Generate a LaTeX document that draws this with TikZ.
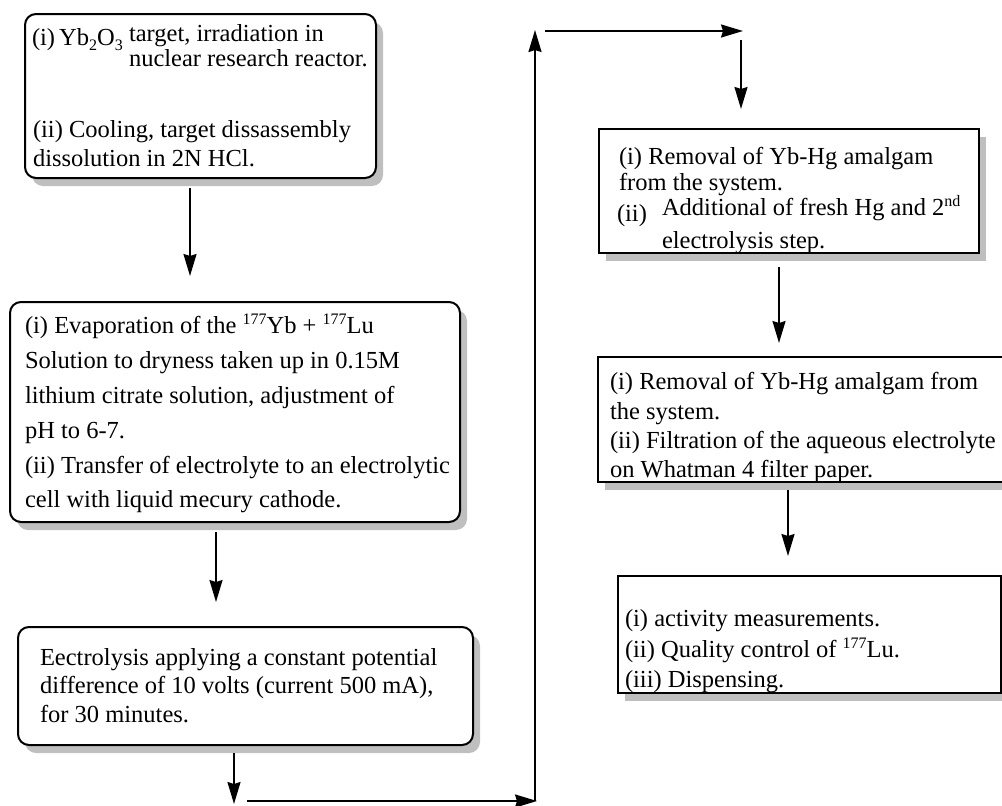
\documentclass[tikz,border=0pt]{standalone}
\usepackage{fontspec}
\setmainfont{Liberation Serif}
\usetikzlibrary{arrows.meta,shadows}
\newcommand{\hi}[1]{\raisebox{9pt}{\fontsize{16}{16}\selectfont #1}}
\newcommand{\lo}[1]{\raisebox{-5pt}{\fontsize{16}{16}\selectfont #1}}
\begin{document}
\begin{tikzpicture}[x=1pt,y=-1pt,
  box/.style={draw=black, line width=2pt, fill=white, anchor=north west, inner sep=0pt, outer sep=0pt,
    drop shadow={shadow xshift=7pt, shadow yshift=-8pt, fill=gray!50, opacity=1}},
  rbox/.style={box, rounded corners=11pt},
  txt/.style={anchor=base west, inner sep=0pt, outer sep=0pt, font=\fontsize{24.5}{29}\selectfont},
  arr/.style={line width=2pt, -{Stealth[length=22pt,width=13pt,inset=2pt]}},
  ln/.style={line width=2pt}
]
\useasboundingbox (0,0) rectangle (1002,806);
\clip (0,0) rectangle (1002,806);

% boxes
\node[rbox, minimum width=351pt, minimum height=164pt] (B1) at (25,14) {};
\node[rbox, minimum width=450pt, minimum height=220pt] (B2) at (10,302) {};
\node[rbox, minimum width=455pt, minimum height=118pt] (B3) at (18,627) {};
\node[box, minimum width=380pt, minimum height=124pt] (B4) at (599,129) {};
\node[box, minimum width=425pt, minimum height=125pt] (B5) at (598,357) {};
\node[box, minimum width=383pt, minimum height=117pt] (B6) at (618,576) {};

% box 1 text
\node[txt] (t1a) at (32,45) {(i)\,Yb\lo{2}O\lo{3}};
\node[txt] (t1b) at (129,41) {target, irradiation in};
\node[txt] (t1c) at (129,66) {nuclear research reactor.};
\node[txt] (t1d) at (33,137) {(ii) Cooling, target dissassembly};
\node[txt] (t1e) at (33,166) {dissolution in 2N HCl.};

% box 2 text
\node[txt] (t2a) at (25,333) {(i) Evaporation of the \hi{177}Yb + \hi{177}Lu};
\node[txt] (t2b) at (25,368) {Solution to dryness taken up in 0.15M};
\node[txt] (t2c) at (25,403) {lithium citrate solution, adjustment of};
\node[txt] (t2d) at (25,438) {pH to 6-7.};
\node[txt] (t2e) at (25,473) {(ii) Transfer of electrolyte to an electrolytic};
\node[txt] (t2f) at (25,507) {cell with liquid mecury cathode.};

% box 3 text
\node[txt] (t3a) at (40,665) {Eectrolysis applying a constant potential};
\node[txt] (t3b) at (40,693) {difference of 10 volts (current 500 mA),};
\node[txt] (t3c) at (40,722) {for 30 minutes.};

% box 4 text
\node[txt] (t4a) at (619,164) {(i) Removal of Yb-Hg amalgam};
\node[txt] (t4b) at (619,190) {from the system.};
\node[txt] (t4c) at (617,221) {(ii)};
\node[txt] (t4d) at (662,215) {Additional of fresh Hg and 2\hi{nd}};
\node[txt] (t4e) at (662,248) {electrolysis step.};

% box 5 text
\node[txt] (t5a) at (610,389) {(i) Removal of Yb-Hg amalgam from};
\node[txt] (t5b) at (610,419) {the system.};
\node[txt] (t5c) at (610,448) {(ii) Filtration of the aqueous electrolyte};
\node[txt] (t5d) at (610,477) {on Whatman 4 filter paper.};

% box 6 text
\node[txt] (t6a) at (625,626) {(i) activity measurements.};
\node[txt] (t6b) at (625,657) {(ii) Quality control of \hi{177}Lu.};
\node[txt] (t6c) at (625,687) {(iii) Dispensing.};

% connector end points
\coordinate (a1s) at (190,188);
\coordinate (a1e) at (190,276);
\coordinate (a2s) at (216,532);
\coordinate (a2e) at (216,602);
\coordinate (a3s) at (234,753);
\coordinate (a3e) at (234,804);
\coordinate (h1s) at (247,801);
\coordinate (h1e) at (537,801);
\coordinate (v1s) at (535,801);
\coordinate (v1e) at (535,30);
\coordinate (h2s) at (545,31);
\coordinate (h2e) at (743,31);
\coordinate (a4s) at (741,40);
\coordinate (a4e) at (741,109);
\coordinate (a5s) at (779,267);
\coordinate (a5e) at (779,343);
\coordinate (a6s) at (788,490);
\coordinate (a6e) at (788,556);

\draw[arr] (a1s) -- (a1e);
\draw[arr] (a2s) -- (a2e);
\draw[arr] (a3s) -- (a3e);
\draw[arr] (h1s) -- (h1e);
\draw[arr] (v1s) -- (v1e);
\draw[arr] (h2s) -- (h2e);
\draw[arr] (a4s) -- (a4e);
\draw[arr] (a5s) -- (a5e);
\draw[arr] (a6s) -- (a6e);
\end{tikzpicture}
\end{document}
